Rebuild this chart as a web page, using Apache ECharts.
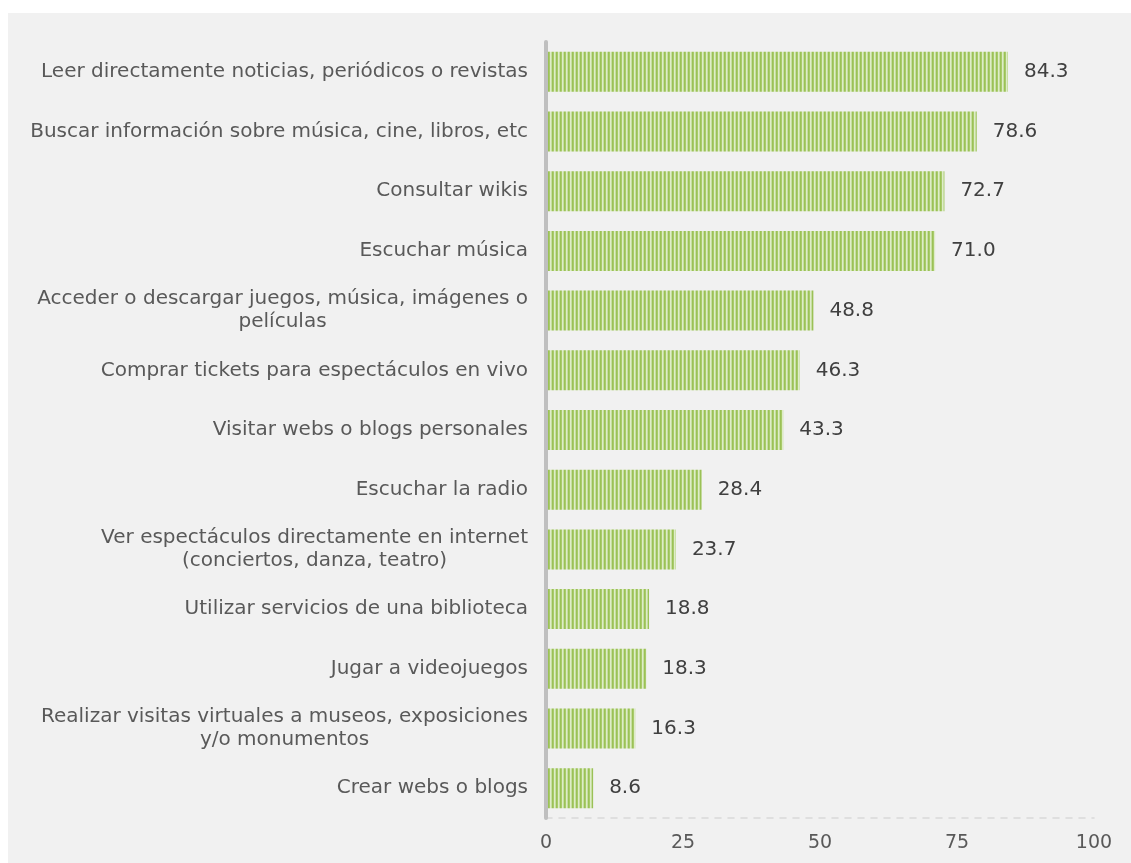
<!DOCTYPE html>
<html>
<head>
<meta charset="utf-8">
<script src="https://cdn.jsdelivr.net/npm/echarts@6/dist/echarts.min.js"></script>
<style>
html,body{margin:0;padding:0;background:#ffffff;}
#chart{width:1131px;height:863px;}
</style>
</head>
<body>
<div id="chart"></div>
<script>
const categories = [
  'Leer directamente noticias, periódicos o revistas',
  'Buscar información sobre música, cine, libros, etc',
  'Consultar wikis',
  'Escuchar música',
  'Acceder o descargar juegos, música, imágenes o\npelículas',
  'Comprar tickets para espectáculos en vivo',
  'Visitar webs o blogs personales',
  'Escuchar la radio',
  'Ver espectáculos directamente en internet\n(conciertos, danza, teatro)',
  'Utilizar servicios de una biblioteca',
  'Jugar a videojuegos',
  'Realizar visitas virtuales a museos, exposiciones\ny/o monumentos',
  'Crear webs o blogs'
];
const values = [84.3, 78.6, 72.7, 71.0, 48.8, 46.3, 43.3, 28.4, 23.7, 18.8, 18.3, 16.3, 8.6];
const xTicks = [0, 25, 50, 75, 100];

const FONT = '"DejaVu Sans", Verdana, sans-serif';

// striped fill pattern
const pc = document.createElement('canvas');
pc.width = 4; pc.height = 4;
const pctx = pc.getContext('2d');
const cols = ['#9bc157', '#a9cb6b', '#deecc8', '#c6dea0'];
cols.forEach((c, i) => { pctx.fillStyle = c; pctx.fillRect(i, 0, 1, 4); });

const chart = echarts.init(document.getElementById('chart'), null, {renderer: 'canvas'});
chart.setOption({
  animation: false,
  backgroundColor: '#ffffff',
  graphic: [{
    type: 'rect', z: -10, silent: true,
    shape: {x: 8, y: 13, width: 1123, height: 850},
    style: {fill: '#f1f1f1'}
  }],
  grid: {left: 546, right: 37, top: 42, bottom: 45, containLabel: false},
  xAxis: {
    type: 'value', min: 0, max: 100, interval: 25,
    axisLine: {show: true, lineStyle: {color: '#d9d9d9', width: 1.5, type: [6, 7]}},
    axisTick: {show: false},
    splitLine: {show: false},
    axisLabel: {
      margin: 16, color: '#595959', fontSize: 19, fontFamily: FONT,
      formatter: v => xTicks.indexOf(v) >= 0 ? String(v) : ''
    }
  },
  yAxis: {
    type: 'category', data: categories, inverse: true, z: 5,
    axisLine: {show: true, lineStyle: {color: '#bfbfbf', width: 4}},
    axisTick: {show: false},
    axisLabel: {
      margin: 18, fontFamily: FONT,
      formatter: v => v.split('\n').map(s => '{a|' + s + '}').join('\n'),
      rich: {a: {align: 'center', fontSize: 20, lineHeight: 23, color: '#595959', fontFamily: FONT}}
    }
  },
  series: [{
    type: 'bar', data: values, barCategoryGap: '33%',
    itemStyle: {color: {image: pc, repeat: 'repeat'}},
    label: {
      show: true, position: 'right', distance: 16,
      color: '#404040', fontSize: 20, fontFamily: FONT,
      formatter: p => p.value.toFixed(1)
    }
  }]
});
</script>
</body>
</html>
